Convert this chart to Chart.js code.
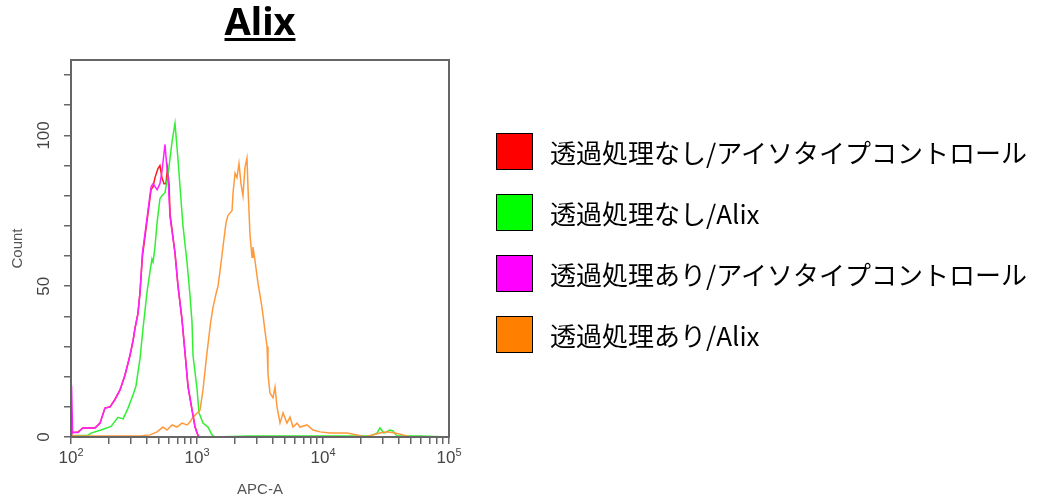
<!DOCTYPE html>
<html>
<head>
<meta charset="utf-8">
<script src="https://cdn.jsdelivr.net/npm/chart.js@4/dist/chart.umd.min.js"></script>
<style>
    body { margin: 0; background: #fff; }
    #wrap { position: relative; width: 1050px; height: 500px; overflow: hidden; }
    #main { position: absolute; left: 0; top: 0; }
    #title {
        position: absolute; left: 0; top: 1px; width: 520px; text-align: center;
        font: bold 38px "Noto Sans", sans-serif; line-height: 1; color: #000;
        text-decoration: underline; text-decoration-thickness: 3px; text-underline-offset: 3px;
    }
    #legend { position: absolute; left: 496px; top: 133px; }
    .row { display: flex; align-items: center; height: 37px; margin-bottom: 24px; }
    .box { width: 37px; height: 37px; box-sizing: border-box; border: 1px solid #000; }
    .txt { margin-left: 17px; font: 26px "Noto Sans CJK JP", sans-serif; color: #000; white-space: nowrap; }
</style>
</head>
<body>
<div id="wrap">
    <canvas id="main" width="1050" height="500"></canvas>
    <div id="title">Alix</div>
    <div id="legend"></div>
</div>
<script>
const seriesNames = [
    "透過処理なし/アイソタイプコントロール",
    "透過処理なし/Alix",
    "透過処理あり/アイソタイプコントロール",
    "透過処理あり/Alix"
];
const seriesColors = ["#ff0000", "#00ff00", "#ff00ff", "#ff8000"];
const lineColors = ["#ff1a1a", "#33ee33", "#ff22ff", "#ff9a3c"];

// APC-A values and counts
const redX = [100, 102, 104, 114, 124, 136, 155, 170, 186, 204, 223, 245, 268, 294, 311, 322, 340, 353, 369, 408,
    432, 448, 464, 490, 508, 527, 547, 567, 583, 600, 611, 669, 707, 760, 803, 848, 913, 964, 1018, 1056, 100000];
const redY = [0, 1.5, 1.5, 1.7, 3, 3, 3, 4.6, 9.6, 10, 12.5, 15.6, 20.5, 27, 32, 36, 41, 48, 60, 74,
    82, 83, 86, 89, 90, 86, 84, 84, 89, 84, 74, 61, 50, 39, 28, 17, 9, 3.5, 0.5, 0, 0];

const greenX = [100, 136, 144, 173, 208, 236, 259, 283, 311, 328, 353, 373, 401, 424, 439, 448, 464, 482, 508, 527,
    557, 589, 634, 669, 707, 733, 774, 833, 880, 913, 930, 1000, 1037, 1116, 1222, 1315, 1390, 2634, 11370, 23600,
    26840, 28300, 30500, 34000, 35950, 38650, 58900, 100000];
const greenY = [0.5, 0.5, 1.3, 2.3, 3.5, 6.5, 6, 9.5, 14, 17, 26, 36, 48, 55, 59, 58, 63, 71, 79, 80,
    81, 87, 98, 104, 92, 83, 70, 58, 47, 38, 27, 16, 8, 4.6, 3.3, 0.7, 0, 0.3, 0.3, 0.3,
    1.3, 3, 1.3, 2.3, 2, 0.3, 0.3, 0];

const magentaX = [100, 101, 103, 114, 124, 136, 155, 170, 186, 204, 223, 245, 268, 294, 311, 322, 340, 353, 369, 408,
    432, 448, 482, 508, 527, 557, 578, 589, 611, 669, 707, 760, 803, 848, 913, 964, 1018, 1056, 100000];
const magentaY = [0, 17, 1.5, 1.5, 3, 3, 3, 4.6, 9.6, 9.9, 12.3, 15.6, 20.5, 27.2, 32, 36, 41, 48, 61, 75,
    83, 84, 82, 84, 88, 97, 89, 86, 73, 61, 50, 39, 28, 16.6, 9, 3.3, 0.5, 0, 0];

const orangeX = [100, 353, 424, 482, 537, 578, 634, 694, 760, 833, 880, 930, 1000, 1056, 1116, 1189, 1280, 1340, 1416, 1468,
    1523, 1607, 1698, 1762, 1897, 1932, 2004, 2077, 2154, 2234, 2317, 2403, 2492, 2538, 2634, 2733, 2780, 2884, 3048, 3280,
    3467, 3597, 3658, 3793, 4009, 4159, 4315, 4560, 4818, 5176, 5470, 5780, 6220, 6565, 7460, 8340, 9460, 11370, 15500, 18600,
    21540, 28300, 32200, 37250, 43150, 49000, 100000];
const orangeY = [0.3, 0.3, 0.7, 1.7, 3.3, 2.3, 4, 3.3, 4.6, 4, 5, 6.6, 7.9, 8.9, 15.6, 26.5, 37.7, 43, 47.5, 50,
    55, 63, 71, 73.5, 75, 81, 87.5, 86, 90.7, 84, 80, 89.4, 92.4, 83, 67, 59.6, 63, 58.6, 51, 43,
    35, 30, 21, 14.6, 13, 16.5, 10, 4.6, 8, 4.6, 6.6, 3.3, 4.6, 3.3, 4, 2.3, 1.7, 1.3, 1.3, 0.7,
    0, 1.3, 1.7, 1.3, 0.7, 0, 0];

const xMajorTicks = [100, 1000, 10000, 100000];
const xMinorSteps = [2, 3, 4, 5, 6, 7, 8, 9];
const yTickValues = [0, 10, 20, 30, 40, 50, 60, 70, 80, 90, 100, 110, 120];
const yLabelValues = [0, 50, 100];

const axisColor = "#666666";
const labelColor = "#444444";

function points(xs, ys) {
    return xs.map((x, i) => ({ x: x, y: ys[i] }));
}

function xTicks() {
    let ticks = [];
    for (let i = 0; i < xMajorTicks.length; i++) {
        ticks.push({ value: xMajorTicks[i] });
        if (i < xMajorTicks.length - 1) {
            xMinorSteps.forEach(m => ticks.push({ value: xMajorTicks[i] * m }));
        }
    }
    return ticks;
}

function dataset(idx, xs, ys, order) {
    return {
        label: seriesNames[idx],
        data: points(xs, ys),
        borderColor: lineColors[idx],
        backgroundColor: lineColors[idx],
        borderWidth: 1.5,
        pointRadius: 0,
        showLine: true,
        tension: 0,
        order: order
    };
}

// frame box and the 10^n / rotated count labels
const axisDecor = {
    id: "axisDecor",
    afterDraw(chart) {
        const ctx = chart.ctx;
        const a = chart.chartArea;
        const xs = chart.scales.x;
        const ys = chart.scales.y;
        ctx.save();
        ctx.strokeStyle = axisColor;
        ctx.lineWidth = 2;
        ctx.strokeRect(a.left, a.top, a.right - a.left, a.bottom - a.top);

        ctx.fillStyle = labelColor;
        ctx.font = '17px "Liberation Sans", Arial, sans-serif';
        ctx.textAlign = "center";
        ctx.textBaseline = "middle";
        yLabelValues.forEach(v => {
            ctx.save();
            ctx.translate(a.left - 27, ys.getPixelForValue(v));
            ctx.rotate(-Math.PI / 2);
            ctx.fillText(String(v), 0, 0);
            ctx.restore();
        });

        ctx.textAlign = "left";
        ctx.textBaseline = "alphabetic";
        xMajorTicks.forEach(v => {
            const px = xs.getPixelForValue(v);
            const exp = String(Math.round(Math.log10(v)));
            ctx.font = '17px "Liberation Sans", Arial, sans-serif';
            const w1 = ctx.measureText("10").width;
            ctx.font = '11px "Liberation Sans", Arial, sans-serif';
            const w2 = ctx.measureText(exp).width;
            const x0 = px - (w1 + w2) / 2;
            ctx.font = '17px "Liberation Sans", Arial, sans-serif';
            ctx.fillText("10", x0, a.bottom + 26);
            ctx.font = '11px "Liberation Sans", Arial, sans-serif';
            ctx.fillText(exp, x0 + w1, a.bottom + 19);
        });
        ctx.restore();
    }
};

const legendBox = document.getElementById("legend");
seriesNames.forEach((name, i) => {
    const row = document.createElement("div");
    row.className = "row";
    row.innerHTML = '<div class="box" style="background:' + seriesColors[i] + '"></div><div class="txt">' + name + "</div>";
    legendBox.appendChild(row);
});

const myChart = new Chart(document.getElementById("main"), {
    type: "scatter",
    data: {
        datasets: [
            dataset(0, redX, redY, 3),
            dataset(1, greenX, greenY, 2),
            dataset(2, magentaX, magentaY, 0),
            dataset(3, orangeX, orangeY, 1)
        ]
    },
    plugins: [axisDecor],
    options: {
        responsive: false,
        animation: false,
        devicePixelRatio: 1,
        layout: { padding: { top: 60, right: 601, left: 0, bottom: 0 } },
        plugins: {
            legend: { display: false },
            tooltip: { enabled: false },
            title: { display: false }
        },
        scales: {
            x: {
                type: "logarithmic",
                min: 100,
                max: 100000,
                afterBuildTicks: scale => { scale.ticks = xTicks(); },
                afterFit: scale => { scale.height = 63; },
                ticks: { display: false },
                grid: { display: true, drawOnChartArea: false, drawTicks: true, tickLength: 7, color: axisColor, lineWidth: 1.5 },
                border: { display: true, color: axisColor, width: 2 },
                title: {
                    display: true,
                    text: "APC-A",
                    color: "#555555",
                    font: { family: '"Liberation Sans", Arial, sans-serif', size: 15 },
                    padding: { top: 0, bottom: 1 }
                }
            },
            y: {
                type: "linear",
                min: 0,
                max: 125,
                afterBuildTicks: scale => { scale.ticks = yTickValues.map(v => ({ value: v })); },
                afterFit: scale => { scale.width = 71; },
                ticks: { display: false },
                grid: { display: true, drawOnChartArea: false, drawTicks: true, tickLength: 7, color: axisColor, lineWidth: 1.5 },
                border: { display: true, color: axisColor, width: 2 },
                title: {
                    display: true,
                    text: "Count",
                    color: "#555555",
                    font: { family: '"Liberation Sans", Arial, sans-serif', size: 15 },
                    padding: { top: 9, bottom: 0 }
                }
            }
        }
    }
});
console.log("Loaded!");
</script>
</body>
</html>
